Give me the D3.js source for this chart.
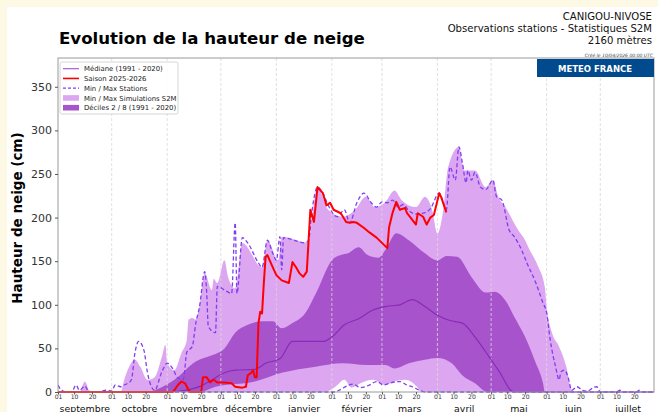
<!DOCTYPE html>
<html>
<head>
<meta charset="utf-8">
<script src="https://cdn.jsdelivr.net/npm/d3@7"></script>
<style>
  body { margin: 0; background: #fdf9e4; }
  svg { display: block; font-family: "DejaVu Sans", sans-serif; }
</style>
</head>
<body>
<svg id="chart" width="658" height="412"></svg>
<script>
// ---- data (date, snow height in cm) ----
const monthNames = ["septembre", "octobre", "novembre", "décembre", "janvier", "février", "mars", "avril", "mai", "juin", "juillet"];
const dayTicks = [1, 10, 20];
const yTicks = [0, 50, 100, 150, 200, 250, 300, 350];

const medianData = [["2025-09-01",0],["2025-11-01",0],["2025-11-11",2],["2025-11-20",7],["2025-11-26",14],["2025-12-03",22],["2025-12-09",25],["2025-12-20",26],["2025-12-26",33],["2026-01-03",38],["2026-01-10",58],["2026-01-27",58],["2026-02-01",63],["2026-02-08",77],["2026-02-16",84],["2026-02-24",94],["2026-03-03",98],["2026-03-11",100],["2026-03-18",106],["2026-03-25",98],["2026-04-01",88],["2026-04-08",82],["2026-04-15",79],["2026-04-22",63],["2026-04-30",40],["2026-05-06",22],["2026-05-12",2],["2026-05-14",0],["2026-07-31",0]];

const decile8Data = [["2025-09-01",0],["2025-10-22",0],["2025-10-25",2],["2025-11-05",14],["2025-11-17",35],["2025-11-26",42],["2025-12-03",50],["2025-12-09",68],["2025-12-16",77],["2025-12-24",81],["2025-12-30",81],["2026-01-04",73],["2026-01-10",79],["2026-01-17",90],["2026-01-24",117],["2026-02-01",151],["2026-02-06",157],["2026-02-10",159],["2026-02-16",166],["2026-02-21",157],["2026-02-27",154],["2026-03-03",163],["2026-03-09",182],["2026-03-16",174],["2026-03-25",159],["2026-04-01",151],["2026-04-06",156],["2026-04-12",155],["2026-04-20",132],["2026-04-28",114],["2026-05-03",115],["2026-05-09",105],["2026-05-14",86],["2026-05-20",63],["2026-05-26",33],["2026-05-30",10],["2026-05-31",0],["2026-07-31",0]];

const decile2Data = [["2025-09-01",0],["2025-11-19",0],["2025-11-28",6],["2025-12-20",12],["2026-01-04",22],["2026-01-23",29],["2026-02-07",33],["2026-02-20",31],["2026-03-03",31],["2026-03-08",27],["2026-03-16",33],["2026-03-25",37],["2026-04-01",39],["2026-04-09",33],["2026-04-15",19],["2026-04-22",10],["2026-04-29",0],["2026-07-31",0]];

const maxSimData = [["2025-09-01",0],["2025-09-13",0],["2025-09-16",12],["2025-09-19",0],["2025-10-06",0],["2025-10-08",14],["2025-10-14",37],["2025-10-17",29],["2025-10-21",14],["2025-10-25",17],["2025-10-29",40],["2025-10-31",54],["2025-11-01",33],["2025-11-05",25],["2025-11-09",45],["2025-11-12",60],["2025-11-13",83],["2025-11-15",85],["2025-11-17",83],["2025-11-19",98],["2025-11-22",136],["2025-11-26",117],["2025-11-27",130],["2025-11-29",125],["2025-12-03",151],["2025-12-05",132],["2025-12-09",119],["2025-12-13",171],["2025-12-24",143],["2025-12-27",174],["2026-01-02",151],["2026-01-04",178],["2026-01-19",171],["2026-01-21",201],["2026-01-24",235],["2026-01-30",209],["2026-02-07",201],["2026-02-14",209],["2026-02-20",224],["2026-02-25",212],["2026-03-03",218],["2026-03-08",231],["2026-03-12",220],["2026-03-20",212],["2026-03-25",224],["2026-03-29",209],["2026-04-01",182],["2026-04-04",205],["2026-04-07",258],["2026-04-13",281],["2026-04-16",254],["2026-04-22",254],["2026-04-28",235],["2026-05-02",243],["2026-05-05",224],["2026-05-09",212],["2026-05-13",197],["2026-05-16",186],["2026-05-20",174],["2026-05-22",165],["2026-05-27",145],["2026-05-31",120],["2026-06-01",98],["2026-06-04",68],["2026-06-08",52],["2026-06-12",29],["2026-06-15",2],["2026-06-17",0],["2026-07-31",0]];

const minSimData = [["2025-09-01",0],["2026-01-28",0],["2026-02-03",6],["2026-02-08",14],["2026-02-12",5],["2026-02-17",10],["2026-02-24",14],["2026-03-03",8],["2026-03-08",12],["2026-03-14",14],["2026-03-21",5],["2026-03-23",0],["2026-07-31",0]];

const stationMaxData = [["2025-09-01",8],["2025-09-03",2],["2025-09-06",0],["2025-09-09",1],["2025-09-11",8],["2025-09-13",2],["2025-09-16",7],["2025-09-18",1],["2025-09-23",0],["2025-09-28",2],["2025-10-01",1],["2025-10-03",8],["2025-10-06",6],["2025-10-08",8],["2025-10-10",10],["2025-10-12",14],["2025-10-14",45],["2025-10-16",58],["2025-10-19",48],["2025-10-21",22],["2025-10-25",2],["2025-10-29",23],["2025-11-01",33],["2025-11-04",27],["2025-11-07",16],["2025-11-10",14],["2025-11-12",46],["2025-11-15",52],["2025-11-17",79],["2025-11-19",97],["2025-11-22",138],["2025-11-23",117],["2025-11-24",75],["2025-11-28",68],["2025-11-29",121],["2025-12-03",117],["2025-12-07",113],["2025-12-09",194],["2025-12-10",113],["2025-12-13",177],["2025-12-16",171],["2025-12-22",148],["2025-12-24",143],["2025-12-27",174],["2025-12-30",159],["2026-01-01",151],["2026-01-03",178],["2026-01-04",140],["2026-01-05",177],["2026-01-11",174],["2026-01-17",171],["2026-01-19",174],["2026-01-21",209],["2026-01-24",235],["2026-01-27",228],["2026-01-30",214],["2026-02-04",201],["2026-02-08",209],["2026-02-11",194],["2026-02-15",217],["2026-02-19",228],["2026-02-23",217],["2026-02-26",212],["2026-03-01",218],["2026-03-04",217],["2026-03-07",220],["2026-03-10",212],["2026-03-13",215],["2026-03-16",208],["2026-03-20",204],["2026-03-24",205],["2026-03-28",210],["2026-04-02",228],["2026-04-06",209],["2026-04-08",258],["2026-04-11",243],["2026-04-13",281],["2026-04-15",262],["2026-04-17",240],["2026-04-18",254],["2026-04-20",243],["2026-04-22",252],["2026-04-25",235],["2026-04-28",232],["2026-05-02",243],["2026-05-04",224],["2026-05-07",220],["2026-05-11",186],["2026-05-14",178],["2026-05-18",163],["2026-05-21",148],["2026-05-26",125],["2026-05-30",102],["2026-06-01",91],["2026-06-03",60],["2026-06-06",29],["2026-06-08",14],["2026-06-09",23],["2026-06-11",25],["2026-06-13",17],["2026-06-15",2],["2026-06-18",6],["2026-06-21",2],["2026-06-24",1],["2026-06-27",5],["2026-06-29",6],["2026-07-01",0],["2026-07-10",0],["2026-07-12",2],["2026-07-14",0],["2026-07-21",0],["2026-07-23",2],["2026-07-25",0],["2026-07-31",0]];

const stationMinData = [["2025-09-01",0],["2026-02-03",0],["2026-02-05",2],["2026-02-13",9],["2026-02-17",5],["2026-02-22",8],["2026-02-26",12],["2026-03-02",8],["2026-03-05",10],["2026-03-11",12],["2026-03-15",8],["2026-03-18",6],["2026-03-22",2],["2026-03-25",0],["2026-07-31",0]];

const seasonData = [["2025-09-01",0],["2025-11-04",0],["2025-11-05",2],["2025-11-07",8],["2025-11-09",12],["2025-11-11",10],["2025-11-13",2],["2025-11-14",0],["2025-11-20",0],["2025-11-21",17],["2025-11-23",17],["2025-11-25",11],["2025-11-27",14],["2025-11-29",11],["2025-12-03",11],["2025-12-07",10],["2025-12-09",6],["2025-12-13",5],["2025-12-15",6],["2025-12-16",19],["2025-12-18",22],["2025-12-19",25],["2025-12-20",17],["2025-12-21",17],["2025-12-22",79],["2025-12-23",92],["2025-12-24",90],["2025-12-25",125],["2025-12-26",155],["2025-12-27",157],["2025-12-30",143],["2026-01-01",134],["2026-01-04",128],["2026-01-08",125],["2026-01-10",149],["2026-01-12",143],["2026-01-14",136],["2026-01-16",132],["2026-01-18",138],["2026-01-20",209],["2026-01-22",195],["2026-01-24",235],["2026-01-27",228],["2026-01-29",214],["2026-01-31",217],["2026-02-02",209],["2026-02-06",205],["2026-02-09",195],["2026-02-11",194],["2026-02-13",195],["2026-02-15",194],["2026-02-19",188],["2026-02-22",183],["2026-02-26",177],["2026-03-02",169],["2026-03-04",165],["2026-03-05",189],["2026-03-07",206],["2026-03-09",218],["2026-03-11",209],["2026-03-14",211],["2026-03-15",205],["2026-03-17",200],["2026-03-20",192],["2026-03-21",205],["2026-03-24",201],["2026-03-26",192],["2026-03-28",200],["2026-03-30",203],["2026-04-02",228],["2026-04-03",224],["2026-04-05",212],["2026-04-06",206]];

// ---- colours ----
const cLight = "#dca6f0";
const cDark = "#a754cc";
const cMedian = "#8a2ab8";
const cStation = "#7f3ff0";
const cRed = "#ff0000";

const parse = d3.timeParse("%Y-%m-%d");
const plot = { left: 58, right: 654, top: 58, bottom: 392 };

const x = d3.scaleTime()
    .domain([parse("2025-09-01"), parse("2026-07-31")])
    .range([plot.left, plot.right]);
const y = d3.scaleLinear()
    .domain([0, 383])
    .range([plot.bottom, plot.top]);

const svg = d3.select("#chart");

// figure background
svg.append("rect").attr("width", 658).attr("height", 412).attr("fill", "#fdf9e4");
svg.append("rect").attr("x", 7).attr("y", 7).attr("width", 651).attr("height", 405).attr("fill", "#fff");

svg.append("clipPath").attr("id", "clip")
  .append("rect")
    .attr("x", plot.left).attr("y", plot.top)
    .attr("width", plot.right - plot.left).attr("height", plot.bottom - plot.top + 2);

const g = svg.append("g").attr("clip-path", "url(#clip)");

const area = d3.area()
    .x(d => x(parse(d[0])))
    .y0(y(0))
    .y1(d => y(d[1]))
    .curve(d3.curveMonotoneX);

const line = d3.line()
    .x(d => x(parse(d[0])))
    .y(d => y(d[1]))
    .curve(d3.curveMonotoneX);

// stacked fills: light (max sim) > dark (decile 8) > light (decile 2) > white (min sim)
g.append("path").datum(maxSimData).attr("d", area).attr("fill", cLight);
g.append("path").datum(decile8Data).attr("d", area).attr("fill", cDark);
g.append("path").datum(decile2Data).attr("d", area).attr("fill", cLight);
g.append("path").datum(minSimData).attr("d", area).attr("fill", "#fff");

// month grid lines
const monthStarts = d3.timeMonth.range(parse("2025-10-01"), parse("2026-07-02"));
g.selectAll("line.grid")
  .data(monthStarts)
  .join("line")
    .attr("class", "grid")
    .attr("x1", d => x(d)).attr("x2", d => x(d))
    .attr("y1", plot.top).attr("y2", plot.bottom)
    .attr("stroke", "#d8d8d8")
    .attr("stroke-width", 0.8)
    .attr("stroke-dasharray", "3,2");

// median
g.append("path").datum(medianData).attr("d", line)
    .attr("fill", "none").attr("stroke", cMedian).attr("stroke-width", 1.2);

// stations min / max
[stationMaxData, stationMinData].forEach(s => {
  g.append("path").datum(s).attr("d", line)
    .attr("fill", "none").attr("stroke", cStation)
    .attr("stroke-width", 1.3).attr("stroke-dasharray", "4,2.5");
});

// current season
g.append("path").datum(seasonData)
    .attr("d", d3.line().x(d => x(parse(d[0]))).y(d => y(d[1])))
    .attr("fill", "none").attr("stroke", cRed).attr("stroke-width", 2)
    .attr("stroke-linejoin", "round");

// spines
svg.append("rect")
    .attr("x", plot.left).attr("y", plot.top)
    .attr("width", plot.right - plot.left).attr("height", plot.bottom - plot.top)
    .attr("fill", "none").attr("stroke", "#9a9a9a").attr("stroke-width", 1);

// y axis
const yAxis = svg.append("g")
    .attr("transform", `translate(${plot.left},0)`)
    .call(d3.axisLeft(y).tickValues(yTicks).tickSize(3).tickPadding(3));
yAxis.select(".domain").remove();
yAxis.selectAll("text").attr("font-size", 11).attr("fill", "#333").attr("font-family", "DejaVu Sans");
yAxis.selectAll("line").attr("stroke", "#555");

// x axis: day ticks 01/10/20 of each month
const months = d3.timeMonth.range(parse("2025-09-01"), parse("2026-08-01"));
const dayDates = [];
months.forEach(m => dayTicks.forEach(dd => dayDates.push(new Date(m.getFullYear(), m.getMonth(), dd))));

const xAxis = svg.append("g")
    .attr("transform", `translate(0,${plot.bottom})`)
    .call(d3.axisBottom(x).tickValues(dayDates).tickSize(2.5).tickPadding(0.5)
      .tickFormat(d3.timeFormat("%d")));
xAxis.select(".domain").remove();
xAxis.selectAll("text").attr("font-size", 6.1).attr("fill", "#333").attr("font-family", "DejaVu Sans");
xAxis.selectAll("line").attr("stroke", "#555");

// month names
svg.selectAll("text.month")
  .data(months)
  .join("text")
    .attr("class", "month")
    .attr("x", d => (x(d) + x(d3.timeMonth.offset(d, 1))) / 2)
    .attr("y", 411.5)
    .attr("text-anchor", "middle")
    .attr("font-size", 9.4)
    .attr("fill", "#111")
    .text((d, i) => monthNames[i]);

// y label
svg.append("text")
    .attr("transform", "translate(22,218) rotate(-90)")
    .attr("text-anchor", "middle")
    .attr("font-size", 13.5)
    .attr("font-weight", "bold")
    .attr("fill", "#000")
    .text("Hauteur de neige (cm)");

// titles
svg.append("text")
    .attr("x", 59).attr("y", 44)
    .attr("font-size", 16.6)
    .attr("font-weight", "bold")
    .attr("fill", "#000")
    .text("Evolution de la hauteur de neige");

const headerLines = ["CANIGOU-NIVOSE", "Observations stations - Statistiques S2M", "2160 mètres"];
svg.selectAll("text.header")
  .data(headerLines)
  .join("text")
    .attr("class", "header")
    .attr("x", 652)
    .attr("y", (d, i) => 20 + i * 11.8)
    .attr("text-anchor", "end")
    .attr("font-size", 10.1)
    .attr("fill", "#111")
    .text(d => d);

svg.append("text")
    .attr("x", 653).attr("y", 57)
    .attr("text-anchor", "end")
    .attr("font-size", 4.5)
    .attr("font-style", "italic")
    .attr("fill", "#444")
    .text("Créé le 10/04/2026 00:00 UTC");

// Meteo France banner
svg.append("rect")
    .attr("x", 537).attr("y", 59).attr("width", 117).attr("height", 18)
    .attr("fill", "#004a8d");
svg.append("text")
    .attr("x", 595).attr("y", 71.5)
    .attr("text-anchor", "middle")
    .attr("font-size", 8.5)
    .attr("font-weight", "bold")
    .attr("fill", "#fff")
    .text("METEO FRANCE");

// legend
const legendItems = [
  { label: "Médiane (1991 - 2020)", kind: "line", color: "#a35ed6" },
  { label: "Saison 2025-2026", kind: "line", color: cRed },
  { label: "Min / Max Stations", kind: "dash", color: cStation },
  { label: "Min / Max Simulations S2M", kind: "patch", color: cLight },
  { label: "Déciles 2 / 8  (1991 - 2020)", kind: "patch", color: cDark }
];

const legend = svg.append("g");
legend.append("rect")
    .attr("x", 60).attr("y", 62).attr("width", 118).attr("height", 52)
    .attr("rx", 2)
    .attr("fill", "#fff").attr("fill-opacity", 0.85)
    .attr("stroke", "#ccc").attr("stroke-width", 0.8);

const li = legend.selectAll("g.item")
  .data(legendItems)
  .join("g")
    .attr("class", "item")
    .attr("transform", (d, i) => `translate(0,${68.7 + i * 9.75})`);

li.filter(d => d.kind !== "patch").append("line")
    .attr("x1", 63).attr("x2", 79)
    .attr("stroke", d => d.color)
    .attr("stroke-width", d => d.kind === "line" && d.color === cRed ? 1.6 : 1.2)
    .attr("stroke-dasharray", d => d.kind === "dash" ? "3,2" : null);

li.filter(d => d.kind === "patch").append("rect")
    .attr("x", 63).attr("y", -2.8).attr("width", 16).attr("height", 5.6)
    .attr("fill", d => d.color);

li.append("text")
    .attr("x", 84).attr("y", 2.6)
    .attr("font-size", 6.9)
    .attr("fill", "#222")
    .text(d => d.label);
</script>
</body>
</html>
